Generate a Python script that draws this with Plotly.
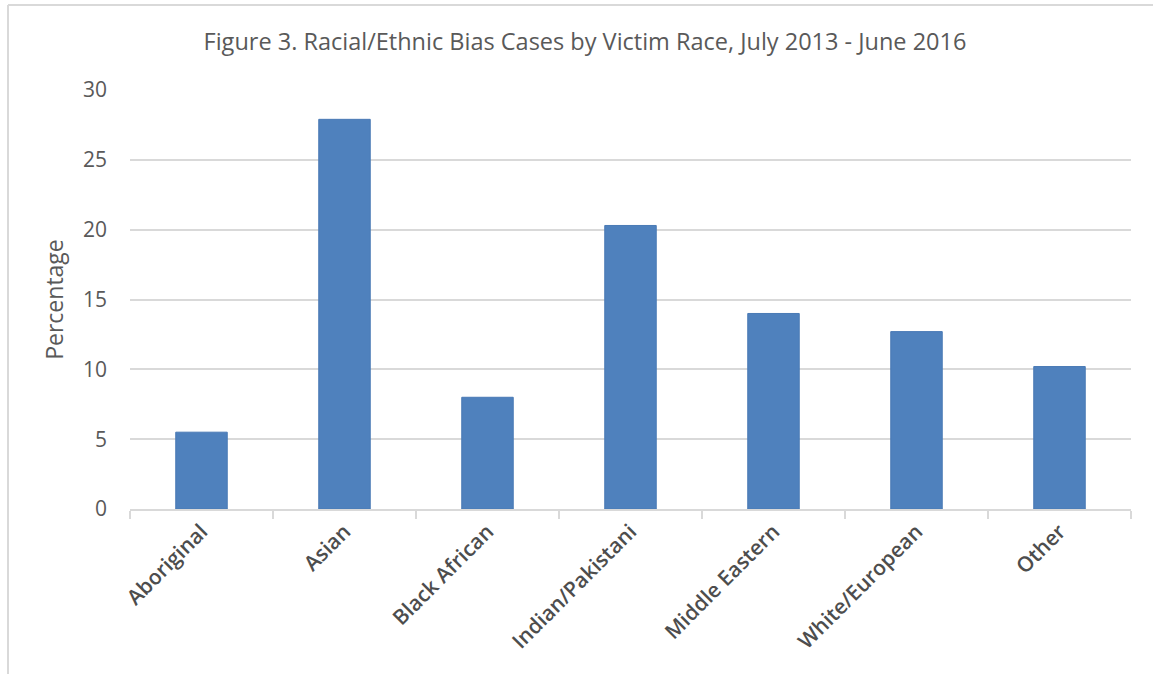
import plotly.graph_objects as go

# Share of racial/ethnic bias cases by victim race
categories = ["Aboriginal", "Asian", "Black African", "Indian/Pakistani",
              "Middle Eastern", "White/European", "Other"]
percentages = [5.5, 27.9, 8.0, 20.3, 14.0, 12.7, 10.2]
y_ticks = [0, 5, 10, 15, 20, 25, 30]

W, H = 1153, 674
L, R, T, B = 130, 22, 90, 165

FONT = "Open Sans, Noto Sans, sans-serif"
TEXT = "#595959"
GRID = "#d9d9d9"

fig = go.Figure(
    go.Bar(
        x=categories,
        y=percentages,
        marker=dict(color="#4f81bd", line=dict(color="#4a7ab5", width=1)),
        width=0.36,
        hoverinfo="x+y",
    )
)

fig.update_layout(
    width=W,
    height=H,
    margin=dict(l=L, r=R, t=T, b=B),
    paper_bgcolor="white",
    plot_bgcolor="white",
    showlegend=False,
    title=dict(
        text="Figure 3. Racial/Ethnic Bias Cases by Victim Race, July 2013 - June 2016",
        x=585 / W,
        xanchor="center",
        y=1 - 42 / H,
        yanchor="middle",
        font=dict(family=FONT, size=23.5, color=TEXT),
    ),
    font=dict(family=FONT, color=TEXT),
)

fig.update_xaxes(
    type="category",
    showgrid=False,
    showline=True,
    linecolor=GRID,
    linewidth=2,
    ticks="outside",
    tickson="boundaries",
    ticklen=8,
    tickwidth=2,
    tickcolor=GRID,
    tickangle=-45,
    tickfont=dict(family=FONT, size=21, color="#4d4d4d", weight=600),
)

fig.update_yaxes(
    range=[0, 30],
    tickvals=y_ticks,
    showgrid=True,
    gridcolor=GRID,
    gridwidth=2,
    zeroline=False,
    showline=False,
    ticks="",
    ticklabelstandoff=22,
    tickfont=dict(family=FONT, size=21, color=TEXT),
    title=dict(text="Percentage", font=dict(family=FONT, size=23, color=TEXT), standoff=12),
)

# Outer chart frame (left and top edges visible)
fig.add_shape(type="line", xref="paper", yref="paper",
              x0=-(L - 8) / (W - L - R), x1=-(L - 8) / (W - L - R),
              y0=-(B + 10) / (H - T - B), y1=1 + (T - 5) / (H - T - B),
              line=dict(color=GRID, width=2))
fig.add_shape(type="line", xref="paper", yref="paper",
              x0=-(L - 8) / (W - L - R), x1=1 + (R + 5) / (W - L - R),
              y0=1 + (T - 5) / (H - T - B), y1=1 + (T - 5) / (H - T - B),
              line=dict(color=GRID, width=2))

fig.write_html("out.html")
